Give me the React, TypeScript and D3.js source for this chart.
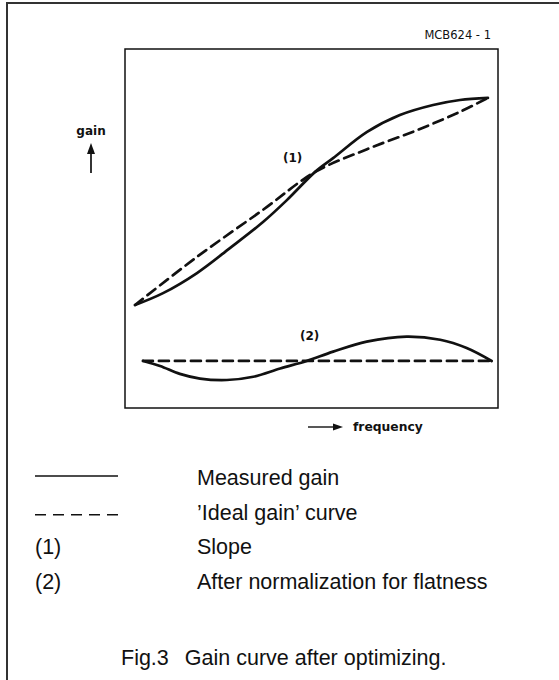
import { useEffect, useRef } from 'react'
import * as d3 from 'd3'

// frequency / gain (arbitrary units, 0..100 across the box)
const freqIdeal = [2.7, 19.3, 37.0, 50.9, 64.9, 78.3, 89.8, 97.3]
const gainIdeal = [28.7, 42.1, 55.2, 65.7, 72.1, 77.4, 82.5, 86.4]

const freqMeasured = [2.7, 10.2, 19.3, 28.2, 37.0, 43.4, 50.9, 55.8, 64.9, 73.7, 82.6, 89.8, 97.3]
const gainMeasured = [28.7, 32.0, 37.6, 44.6, 51.8, 57.9, 65.7, 69.6, 76.9, 81.6, 84.4, 85.8, 86.4]

const freqFlat = [4.8, 98.4]
const gainFlat = [13.1, 13.1]

const freqNorm = [4.9, 9.4, 14.7, 20.1, 27.3, 34.4, 41.6, 48.7, 55.8, 64.8, 75.5, 84.5, 91.6, 98.3]
const gainNorm = [13.1, 11.7, 9.5, 8.2, 7.8, 8.7, 11.0, 13.1, 15.7, 18.5, 19.9, 19.0, 16.7, 13.1]

const legendKeys = ['solid', 'dashed', '(1)', '(2)']
const legendLabels = ['Measured gain', '\u2019Ideal gain\u2019 curve', 'Slope', 'After normalization for flatness']

const figNumber = 'Fig.3'
const figCaption = 'Gain curve after optimizing.'
const drawingCode = 'MCB624 - 1'

const zip = (xs: number[], ys: number[]) => xs.map((x, i) => [x, ys[i]] as [number, number])

export default function App() {
  const svgRef = useRef<SVGSVGElement>(null)

  useEffect(() => {
    if (!svgRef.current) return
    const width = 559
    const height = 680
    const box = { left: 125, right: 498, top: 49, bottom: 408 }
    const ink = '#111'
    const plotFont = '"DejaVu Sans", sans-serif'
    const textFont = '"Liberation Sans", Arial, sans-serif'

    const svg = d3.select(svgRef.current)
    svg.selectAll('*').remove()
    svg.attr('width', width).attr('height', height)

    svg.append('rect').attr('width', width).attr('height', height).attr('fill', '#fff')

    // outer frame (runs off the right and bottom of the scan)
    svg.append('rect')
      .attr('x', 7).attr('y', 3)
      .attr('width', 620).attr('height', 720)
      .attr('fill', 'none').attr('stroke', '#333').attr('stroke-width', 2)

    const x = d3.scaleLinear().domain([0, 100]).range([box.left, box.right])
    const y = d3.scaleLinear().domain([0, 100]).range([box.bottom, box.top])

    // plot box
    svg.append('rect')
      .attr('x', x(0)).attr('y', y(100))
      .attr('width', x(100) - x(0)).attr('height', y(0) - y(100))
      .attr('fill', 'none').attr('stroke', ink).attr('stroke-width', 1.5)

    const line = d3.line<[number, number]>()
      .x(d => x(d[0]))
      .y(d => y(d[1]))
      .curve(d3.curveCatmullRom.alpha(0.5))

    const curves = [
      { pts: zip(freqIdeal, gainIdeal), dashed: true },
      { pts: zip(freqMeasured, gainMeasured), dashed: false },
      { pts: zip(freqFlat, gainFlat), dashed: true },
      { pts: zip(freqNorm, gainNorm), dashed: false }
    ]

    curves.forEach(c => {
      svg.append('path')
        .attr('d', line(c.pts))
        .attr('fill', 'none')
        .attr('stroke', ink)
        .attr('stroke-width', 2.7)
        .attr('stroke-linecap', 'round')
        .attr('stroke-linejoin', 'round')
        .attr('stroke-dasharray', c.dashed ? '10,6' : null)
    })

    const plotText = (tx: number, ty: number, s: string, size: number, anchor = 'start') =>
      svg.append('text').attr('x', tx).attr('y', ty).attr('text-anchor', anchor)
        .attr('font-family', plotFont).attr('font-size', size).attr('font-weight', 'bold')
        .attr('fill', ink)
        .text(s)

    // curve labels
    plotText(283, 162, '(1)', 12)
    plotText(300, 340, '(2)', 12)

    svg.append('text').attr('x', 491).attr('y', 39).attr('text-anchor', 'end')
      .attr('font-family', plotFont).attr('font-size', 11.5).attr('fill', ink)
      .text(drawingCode)

    // y axis name with up arrow
    plotText(91, 135, 'gain', 12, 'middle')
    svg.append('line')
      .attr('x1', 91).attr('y1', 173).attr('x2', 91).attr('y2', 150)
      .attr('stroke', ink).attr('stroke-width', 1.7)
    svg.append('path')
      .attr('d', 'M91,143 L95,154 L87,154 Z')
      .attr('fill', ink)

    // x axis name with right arrow
    svg.append('line')
      .attr('x1', 308).attr('y1', 427).attr('x2', 336).attr('y2', 427)
      .attr('stroke', ink).attr('stroke-width', 1.4)
    svg.append('path')
      .attr('d', 'M343,427 L333,423.5 L333,430.5 Z')
      .attr('fill', ink)
    plotText(353, 431, 'frequency', 12.3)

    // legend
    const rowY = d3.scaleLinear().domain([0, 3]).range([485, 589])
    legendKeys.forEach((k, i) => {
      const yy = rowY(i)
      if (k === 'solid' || k === 'dashed') {
        svg.append('line')
          .attr('x1', 35).attr('x2', 118)
          .attr('y1', yy - (k === 'solid' ? 9 : 5)).attr('y2', yy - (k === 'solid' ? 9 : 5))
          .attr('stroke', ink).attr('stroke-width', 1.5)
          .attr('stroke-dasharray', k === 'dashed' ? '11,7' : null)
      } else {
        svg.append('text').attr('x', 35).attr('y', yy)
          .attr('font-family', textFont).attr('font-size', 21.5).attr('fill', ink)
          .text(k)
      }
      svg.append('text').attr('x', 197).attr('y', yy)
        .attr('font-family', textFont).attr('font-size', 21.5).attr('fill', ink)
        .text(legendLabels[i])
    })

    // caption
    const cap = svg.append('text').attr('x', 121).attr('y', 665)
      .attr('font-family', textFont).attr('font-size', 21.5).attr('fill', ink)
    cap.append('tspan').text(figNumber)
    cap.append('tspan').attr('dx', 16).text(figCaption)
  }, [])

  return (
    <svg
      ref={svgRef}
      style={{ position: 'absolute', left: 0, top: 0, display: 'block' }}
    />
  )
}
